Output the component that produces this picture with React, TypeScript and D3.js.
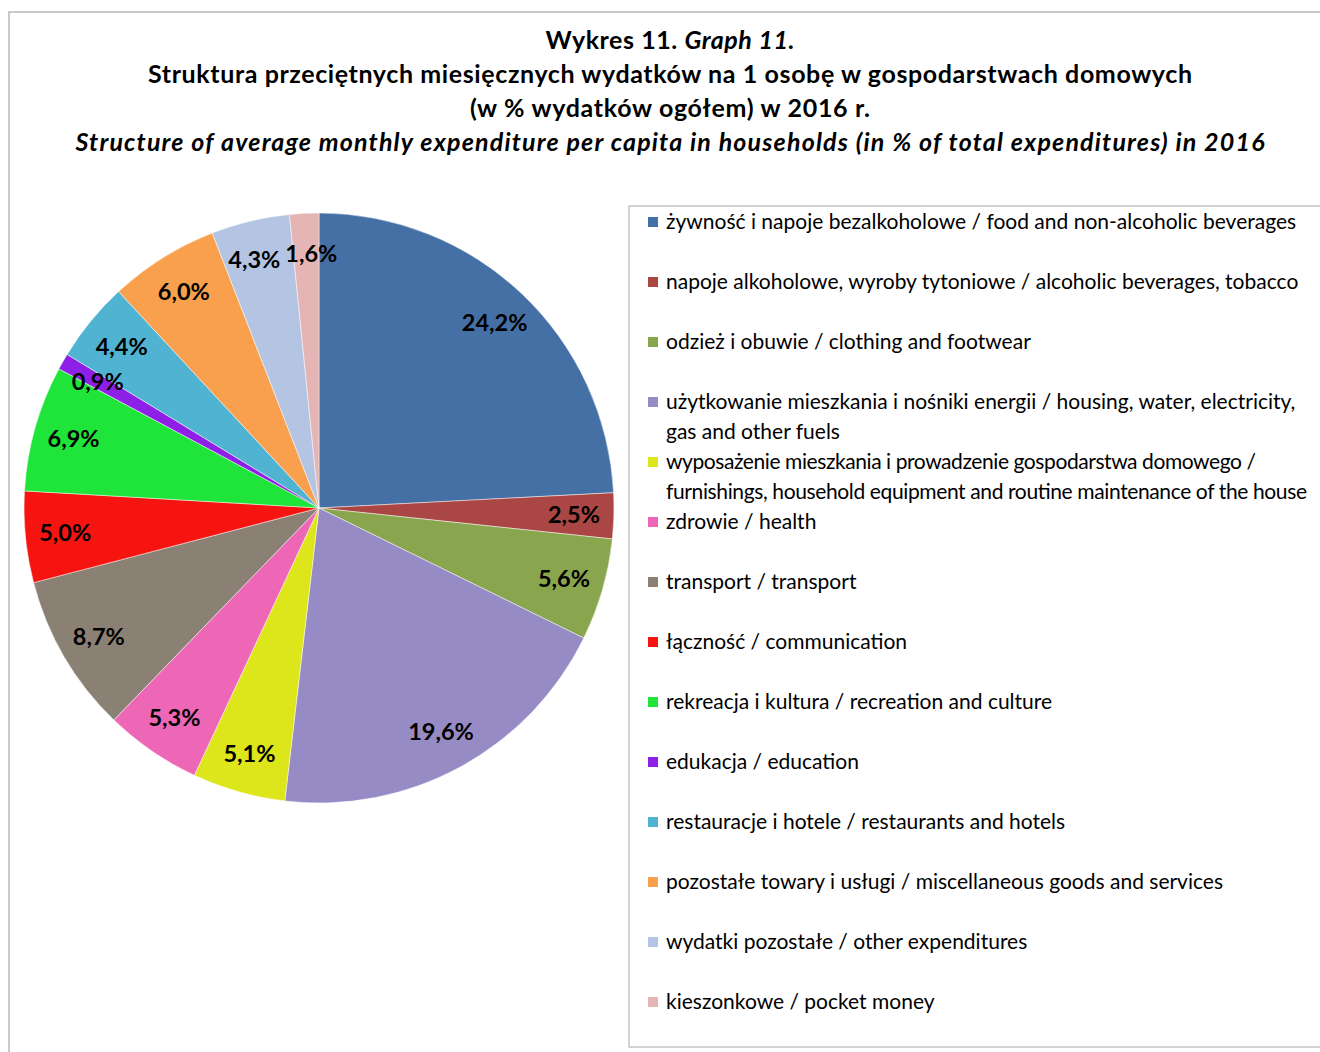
import React from 'react';
import * as d3 from 'd3';

const width = 1320;
const height = 1052;

// data
const categories = [
  'żywność i napoje bezalkoholowe / food and non-alcoholic beverages',
  'napoje alkoholowe, wyroby tytoniowe / alcoholic beverages, tobacco',
  'odzież i obuwie / clothing and footwear',
  'użytkowanie mieszkania i nośniki energii / housing, water, electricity,|gas and other fuels',
  'wyposażenie mieszkania i prowadzenie gospodarstwa domowego /|furnishings, household equipment and routine maintenance of the house',
  'zdrowie / health',
  'transport / transport',
  'łączność / communication',
  'rekreacja i kultura / recreation and culture',
  'edukacja / education',
  'restauracje i hotele / restaurants and hotels',
  'pozostałe towary i usługi / miscellaneous goods and services',
  'wydatki pozostałe / other expenditures',
  'kieszonkowe / pocket money'
];
const shares = [24.2, 2.5, 5.6, 19.6, 5.1, 5.3, 8.7, 5.0, 6.9, 0.9, 4.4, 6.0, 4.3, 1.6];
const colors = [
  '#4570A6', '#AA4643', '#89A54E', '#968BC5', '#DCE61A', '#EE67B6', '#8B8074',
  '#F5140F', '#1FE53A', '#8E1FE6', '#4FB3D1', '#F9A04F', '#B4C5E3', '#E4B5B4'
];
const titleLines = [
  'Struktura przeciętnych miesięcznych wydatków na 1 osobę w gospodarstwach domowych',
  '(w % wydatków ogółem) w 2016 r.'
];
const titleEn = 'Structure of average monthly expenditure per capita in households (in % of total expenditures) in 2016';

const font = 'Lato, "Open Sans", sans-serif';
const cx = 319;
const cy = 508;
const radius = 295;
const labelRadius = 255;
const labelSize = 23.5;

// the squeezed legend lines (Excel condenses them to fit)
const squeezed: Record<string, number> = {
  'wyposażenie mieszkania i prowadzenie gospodarstwa domowego /': 590,
  'furnishings, household equipment and routine maintenance of the house': 641
};

export default function App() {
  const data = shares.map((v, i) => ({ name: categories[i], value: v, color: colors[i] }));
  const pie = d3.pie<any>().sort(null).value(d => d.value);
  const arcs = pie(data);
  const arc = d3.arc<any>().innerRadius(0).outerRadius(radius);
  const labelArc = d3.arc<any>().innerRadius(labelRadius).outerRadius(labelRadius);
  const fmt = (v: number) => v.toFixed(1).replace('.', ',') + '%';

  // label positions, pushed apart sideways when neighbours collide
  const labels = arcs.map(d => {
    const [x, y] = labelArc.centroid(d);
    const text = fmt(d.data.value);
    return { x, y, text, w: text.length * labelSize * 0.5 };
  });
  for (let i = 0; i < labels.length; i++) {
    const a = labels[i];
    const b = labels[(i + 1) % labels.length];
    if (Math.abs(a.y - b.y) < labelSize) {
      const need = (a.w + b.w) / 2 + 10;
      const gap = Math.abs(a.x - b.x);
      if (gap < need) {
        const s = (need - gap) / 2 * (a.x < b.x ? 1 : -1);
        a.x -= s;
        b.x += s;
      }
    }
  }

  const legendX = 648;
  const legendY = 222;
  const rowStep = 60;

  return (
    <svg width={width} height={height} style={{ position: 'absolute', left: 0, top: 0, background: '#fff' }}>
      <rect x={9} y={12} width={1322} height={1050} fill="#fff" stroke="#b8b8b8" strokeWidth={1.5} />

      <g fontFamily={font} fontWeight="bold" fill="#000" textAnchor="middle">
        <text x={670} y={49} fontSize={25} textLength={249} lengthAdjust="spacing">
          Wykres 11. <tspan fontStyle="italic">Graph 11.</tspan>
        </text>
        <text x={670} y={83} fontSize={25} textLength={1044} lengthAdjust="spacing">{titleLines[0]}</text>
        <text x={670} y={117} fontSize={25} textLength={400} lengthAdjust="spacing">{titleLines[1]}</text>
        <text x={670} y={151} fontSize={25} fontStyle="italic" textLength={1189} lengthAdjust="spacing">{titleEn}</text>
      </g>

      <g transform={`translate(${cx},${cy})`}>
        {arcs.map((d, i) => (
          <path key={i} d={arc(d) as string} fill={d.data.color} stroke="#fff" strokeOpacity={0.6} strokeWidth={0.8} />
        ))}
        {labels.map((l, i) => (
          <text key={i} x={l.x} y={l.y} dy="0.35em" textAnchor="middle" fontFamily={font}
            fontWeight="bold" fontSize={labelSize} fill="#000">
            {l.text}
          </text>
        ))}
      </g>

      <rect x={629} y={206} width={720} height={841} fill="none" stroke="#a8a8a8" strokeWidth={1} />
      <g fontFamily={font} fontSize={21} fill="#000">
        {data.map((d, i) => {
          const lines = d.name.split('|');
          const y = legendY + i * rowStep;
          return (
            <g key={i}>
              <rect x={legendX} y={y - 5} width={10} height={10} fill={d.color} />
              {lines.map((l, j) => (
                <text key={j} x={666} y={y + j * 30} dy="0.35em"
                  textLength={squeezed[l]} lengthAdjust={squeezed[l] ? 'spacing' : undefined}>
                  {l}
                </text>
              ))}
            </g>
          );
        })}
      </g>
    </svg>
  );
}
